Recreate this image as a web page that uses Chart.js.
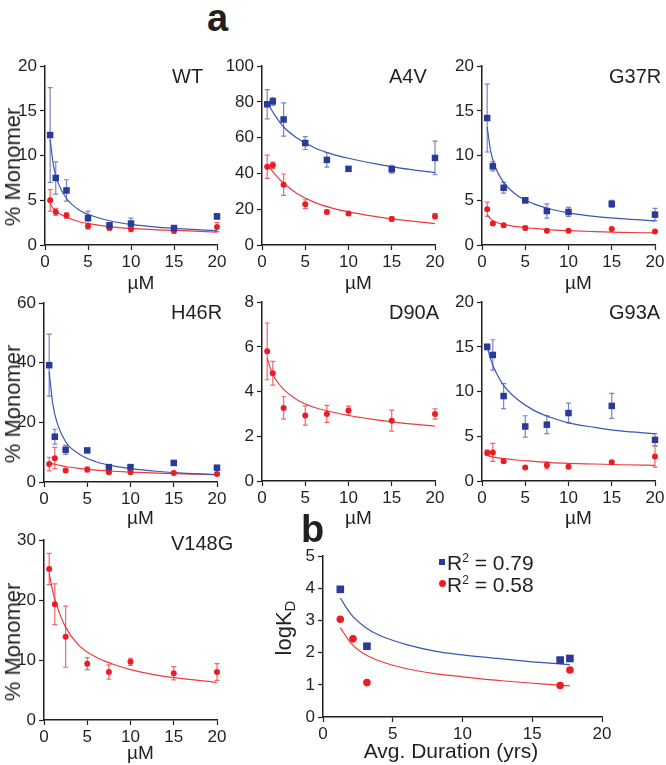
<!DOCTYPE html>
<html>
<head>
<meta charset="utf-8">
<script src="https://cdn.jsdelivr.net/npm/chart.js@4.4.0/dist/chart.umd.min.js"></script>
<style>
  body { margin: 0; background: #fff; }
  #fig { position: relative; width: 666px; height: 765px; font-family: "Liberation Sans", Arial, sans-serif; color: #231f20; overflow: hidden; }
  #fig canvas { position: absolute; }
  .txt { position: absolute; white-space: nowrap; line-height: 1; }
  .ytitle { position: absolute; white-space: nowrap; line-height: 1; transform: translate(-50%, -50%) rotate(-90deg); }
  .xtitle { position: absolute; white-space: nowrap; line-height: 1; transform: translate(-50%, -50%); }
  .letter { position: absolute; font-weight: bold; line-height: 1; }
  .leg { position: absolute; white-space: nowrap; line-height: 1; font-size: 21px; }
  .leg sup { font-size: 12px; vertical-align: 8px; }
  .sq { position: absolute; width: 6px; height: 6px; background: #2b3a96; }
  .dot { position: absolute; width: 7px; height: 7px; border-radius: 50%; background: #ec1c24; }
</style>
</head>
<body>
<div id="fig"></div>
<script>
// concentrations (µM) and x positions used to read the fitted curves
const conc = [0.6, 1.25, 2.5, 5, 7.5, 10, 15, 20];
const fitConc = [0.6, 1, 1.5, 2.5, 4, 6, 8, 10, 13, 16, 20];

// WT
const wtBlue = [12.3, 7.5, 6.1, 3.0, 2.2, 2.4, 1.9, 3.2];
const wtBlueErr = [5.3, 1.8, 1.2, 0.8, 0.3, 0.6, 0.2, 0.3];
const wtBlueFit = [11.8, 8.8, 7.0, 5.2, 3.9, 3.1, 2.6, 2.3, 2.0, 1.8, 1.6];
const wtRed = [5.0, 3.7, 3.3, 2.1, 1.9, 1.8, 1.6, 2.0];
const wtRedErr = [1.2, 0.4, 0.3, 0.3, 0.2, 0.3, 0.3, 0.5];
const wtRedFit = [4.6, 4.0, 3.6, 3.1, 2.6, 2.25, 2.0, 1.85, 1.7, 1.6, 1.45];

// A4V
const a4vBlue = [78.7, 80.3, 70.2, 57.0, 47.6, 42.6, 42.4, 48.7];
const a4vBlueErr = [8.2, 2.2, 9.3, 3.6, 4.0, 0.6, 2.2, 9.4];
const a4vBlueFit = [80, 76.5, 72.5, 66, 60, 54.5, 51, 48.5, 45.5, 43, 40.5];
const a4vRed = [43.8, 44.6, 33.7, 22.8, 18.5, 17.6, 14.6, 16.1];
const a4vRedErr = [6.5, 1.8, 6.0, 2.5, 1.0, 1.0, 1.3, 1.5];
const a4vRedFit = [45, 42.5, 39.5, 34.5, 29, 24, 20.8, 18.5, 16, 14, 12];

// G37R
const g37rBlue = [14.2, 8.8, 6.4, 5.0, 3.8, 3.7, 4.6, 3.4];
const g37rBlueErr = [3.8, 0.5, 0.6, 0.3, 0.8, 0.5, 0.4, 0.7];
const g37rBlueFit = [13.2, 10.5, 8.8, 7.0, 5.6, 4.6, 4.0, 3.6, 3.2, 2.95, 2.7];
const g37rRed = [4.0, 2.4, 2.2, 1.9, 1.6, 1.6, 1.8, 1.5];
const g37rRedErr = [0.8, 0.1, 0.2, 0.2, 0.1, 0.1, 0.1, 0.1];
const g37rRedFit = [3.4, 2.9, 2.6, 2.3, 2.05, 1.85, 1.7, 1.6, 1.5, 1.42, 1.35];

// H46R
const h46rBlue = [39.2, 15.2, 10.8, 10.6, 5.0, 5.0, 6.4, 4.8];
const h46rBlueErr = [10.4, 2.5, 1.5, 0.5, 0.5, 0.5, 0.6, 0.5];
const h46rBlueFit = [37, 26.5, 20, 13.5, 9.5, 6.8, 5.4, 4.5, 3.6, 3.0, 2.5];
const h46rRed = [6.0, 8.0, 3.9, 4.2, 3.3, 3.3, 3.0, 2.7];
const h46rRedErr = [2.3, 3.6, 0.5, 0.8, 0.4, 0.3, 0.4, 0.4];
const h46rRedFit = [6.4, 6.1, 5.8, 5.2, 4.6, 4.0, 3.6, 3.3, 3.0, 2.75, 2.5];

// D90A
const d90aRed = [5.8, 4.82, 3.27, 2.93, 3.0, 3.15, 2.7, 3.0];
const d90aRedErr = [1.27, 0.53, 0.5, 0.43, 0.38, 0.2, 0.47, 0.23];
const d90aRedFit = [5.5, 5.0, 4.6, 4.1, 3.65, 3.3, 3.1, 2.93, 2.75, 2.6, 2.45];

// G93A
const g93aBlue = [15.0, 14.1, 9.5, 6.1, 6.3, 7.6, 8.4, 4.6];
const g93aBlueErr = [0.3, 1.7, 1.4, 1.2, 1.0, 1.1, 1.4, 0.7];
const g93aBlueFit = [15.0, 13.6, 12.4, 10.7, 9.2, 7.9, 7.1, 6.5, 6.0, 5.6, 5.3];
const g93aRed = [3.15, 3.2, 2.2, 1.5, 1.75, 1.6, 2.1, 2.75];
const g93aRedErr = [0.3, 1.0, 0.15, 0.15, 0.4, 0.15, 0.15, 1.2];
const g93aRedFit = [2.85, 2.75, 2.65, 2.5, 2.35, 2.2, 2.05, 1.98, 1.9, 1.82, 1.75];

// V148G
const v148gRed = [25.2, 19.3, 13.9, 9.4, 8.0, 9.7, 7.8, 8.0];
const v148gRedErr = [2.6, 3.4, 5.1, 1.0, 1.2, 0.6, 1.1, 1.4];
const v148gRedFit = [24.5, 21.5, 19.0, 15.5, 12.5, 10.5, 9.3, 8.4, 7.5, 6.9, 6.3];

// panel b: logKD vs average disease duration
const durBlue = [1.24, 3.15, 17.0, 17.7];
const logKdBlue = [3.97, 2.20, 1.77, 1.82];
const durRed = [1.24, 2.15, 3.15, 17.0, 17.7];
const logKdRed = [3.04, 2.43, 1.07, 0.98, 1.46];
const durFit = [1.24, 2, 3, 4, 6, 8, 10, 13, 16, 17.7];
const logKdBlueFit = [3.7, 3.2, 2.8, 2.55, 2.25, 2.05, 1.93, 1.8, 1.68, 1.63];
const logKdRedFit = [2.78, 2.3, 1.95, 1.75, 1.5, 1.35, 1.25, 1.12, 1.02, 0.97];

const COLORS = {
    blue: { mark: '#2b3a96', line: '#3b56b5', err: '#7585c9', shape: 'rect', r: 4.6 },
    red: { mark: '#ec1c24', line: '#ef3a3f', err: '#f2656a', shape: 'circle', r: 3 }
};
const INK = '#231f20';
const FONT = '"Liberation Sans", Arial, sans-serif';

const fig = document.getElementById('fig');

// error bars drawn through the chart's own scales
const errorBars = {
    id: 'errorBars',
    beforeDatasetsDraw(chart) {
        const { ctx, scales: { x, y } } = chart;
        chart.data.datasets.forEach(ds => {
            if (!ds.err) return;
            ctx.save();
            ctx.strokeStyle = ds.errColor;
            ctx.lineWidth = 1.2;
            ds.data.forEach((p, j) => {
                const e = ds.err[j];
                if (!e) return;
                const px = x.getPixelForValue(p.x);
                const yt = y.getPixelForValue(p.y + e);
                const yb = y.getPixelForValue(p.y - e);
                ctx.beginPath();
                ctx.moveTo(px, yt); ctx.lineTo(px, yb);
                ctx.moveTo(px - 2.5, yt); ctx.lineTo(px + 2.5, yt);
                ctx.moveTo(px - 2.5, yb); ctx.lineTo(px + 2.5, yb);
                ctx.stroke();
            });
            ctx.restore();
        });
    }
};

function pairs(xs, ys) {
    return xs.map((x, i) => ({ x: x, y: ys[i] }));
}

function axis(min, max, step) {
    return {
        type: 'linear',
        min: min,
        max: max,
        ticks: { stepSize: step, color: INK, font: { family: FONT, size: 17 }, padding: 3 },
        grid: { display: true, drawOnChartArea: false, drawTicks: true, tickLength: 5, tickColor: INK, tickWidth: 1.2 },
        border: { display: true, color: INK, width: 1.5 }
    };
}

function makeChart(p) {
    const [L, R, T, B] = p.box;
    const yw = 42, xh = 28, pt = 12, pr = 12;
    const canvas = document.createElement('canvas');
    canvas.width = R - L + yw + pr;
    canvas.height = B - T + pt + xh;
    canvas.style.left = (L - yw) + 'px';
    canvas.style.top = (T - pt) + 'px';
    fig.appendChild(canvas);

    const datasets = [];
    p.series.forEach(s => {
        const c = COLORS[s.kind];
        datasets.push({
            data: pairs(s.fitX, s.fit),
            borderColor: c.line,
            borderWidth: 1.2,
            pointRadius: 0,
            cubicInterpolationMode: 'monotone',
            fill: false,
            clip: false,
            order: 2
        });
        datasets.push({
            data: pairs(s.x, s.y),
            showLine: false,
            pointStyle: c.shape,
            pointRadius: s.r || c.r,
            pointBackgroundColor: c.mark,
            pointBorderWidth: 0,
            err: s.err,
            errColor: c.err,
            clip: false,
            order: 1
        });
    });

    const xs = axis(0, 20, 5);
    xs.ticks.padding = 2;
    xs.afterFit = scale => { scale.height = xh; };
    const ys = axis(0, p.yMax, p.yStep);
    ys.afterFit = scale => { scale.width = yw; };

    new Chart(canvas, {
        type: 'line',
        data: { datasets: datasets },
        options: {
            responsive: false,
            animation: false,
            devicePixelRatio: 1,
            events: [],
            layout: { padding: { top: pt, right: pr, left: 0, bottom: 0 } },
            plugins: { legend: { display: false }, tooltip: { enabled: false } },
            scales: { x: xs, y: ys }
        },
        plugins: [errorBars]
    });
}

function addText(cls, html, left, top, size) {
    const d = document.createElement('div');
    d.className = cls;
    d.innerHTML = html;
    d.style.left = left + 'px';
    d.style.top = top + 'px';
    if (size) d.style.fontSize = size + 'px';
    fig.appendChild(d);
    return d;
}

const panels = [
    { name: 'WT', box: [45, 217, 65, 245], yMax: 20, yStep: 5, row: 0, series: [
        { kind: 'blue', x: conc, y: wtBlue, err: wtBlueErr, fitX: fitConc, fit: wtBlueFit },
        { kind: 'red', x: conc, y: wtRed, err: wtRedErr, fitX: fitConc, fit: wtRedFit }] },
    { name: 'A4V', box: [262, 435, 65, 245], yMax: 100, yStep: 20, row: 0, series: [
        { kind: 'blue', x: conc, y: a4vBlue, err: a4vBlueErr, fitX: fitConc, fit: a4vBlueFit },
        { kind: 'red', x: conc, y: a4vRed, err: a4vRedErr, fitX: fitConc, fit: a4vRedFit }] },
    { name: 'G37R', box: [482, 655, 65, 245], yMax: 20, yStep: 5, row: 0, series: [
        { kind: 'blue', x: conc, y: g37rBlue, err: g37rBlueErr, fitX: fitConc, fit: g37rBlueFit },
        { kind: 'red', x: conc, y: g37rRed, err: g37rRedErr, fitX: fitConc, fit: g37rRedFit }] },
    { name: 'H46R', box: [44, 217, 302, 482], yMax: 60, yStep: 20, row: 1, series: [
        { kind: 'blue', x: conc, y: h46rBlue, err: h46rBlueErr, fitX: fitConc, fit: h46rBlueFit },
        { kind: 'red', x: conc, y: h46rRed, err: h46rRedErr, fitX: fitConc, fit: h46rRedFit }] },
    { name: 'D90A', box: [262, 435, 301, 481], yMax: 8, yStep: 2, row: 1, series: [
        { kind: 'red', x: conc, y: d90aRed, err: d90aRedErr, fitX: fitConc, fit: d90aRedFit }] },
    { name: 'G93A', box: [482, 655, 301, 481], yMax: 20, yStep: 5, row: 1, series: [
        { kind: 'blue', x: conc, y: g93aBlue, err: g93aBlueErr, fitX: fitConc, fit: g93aBlueFit },
        { kind: 'red', x: conc, y: g93aRed, err: g93aRedErr, fitX: fitConc, fit: g93aRedFit }] },
    { name: 'V148G', box: [44, 217, 539, 720], yMax: 30, yStep: 10, row: 2, series: [
        { kind: 'red', x: conc, y: v148gRed, err: v148gRedErr, fitX: fitConc, fit: v148gRedFit }] }
];

const nameTop = [66, 302, 533];
const xTitleY = [282, 517, 752];

panels.forEach(p => {
    makeChart(p);
    const [L, R, T, B] = p.box;
    addText('txt', p.name, L + 127, nameTop[p.row], 20);
    addText('xtitle', 'µM', (L + R) / 2 + 10, xTitleY[p.row], 19);
    if (L < 100) addText('ytitle', '% Monomer', 13, (T + B) / 2 + 12, 22);
});

// panel b
makeChart({
    box: [323, 602, 555, 717], yMax: 5, yStep: 1, series: [
        { kind: 'blue', x: durBlue, y: logKdBlue, fitX: durFit, fit: logKdBlueFit, r: 5.4 },
        { kind: 'red', x: durRed, y: logKdRed, fitX: durFit, fit: logKdRedFit, r: 3.8 }]
});
addText('xtitle', 'Avg. Duration (yrs)', 451, 750, 21);
addText('ytitle', 'logK<sub style="font-size:15px;vertical-align:-4px">D</sub>', 285, 628, 22);

// legend for panel b
const sq = document.createElement('div'); sq.className = 'sq'; sq.style.left = '439px'; sq.style.top = '559px'; fig.appendChild(sq);
const dot = document.createElement('div'); dot.className = 'dot'; dot.style.left = '439px'; dot.style.top = '580px'; fig.appendChild(dot);
addText('leg', 'R<sup>2</sup> = 0.79', 447, 552);
addText('leg', 'R<sup>2</sup> = 0.58', 447, 574);

// panel letters
addText('letter', 'a', 207, -1, 38);
addText('letter', 'b', 301, 510, 38);
</script>
</body>
</html>
